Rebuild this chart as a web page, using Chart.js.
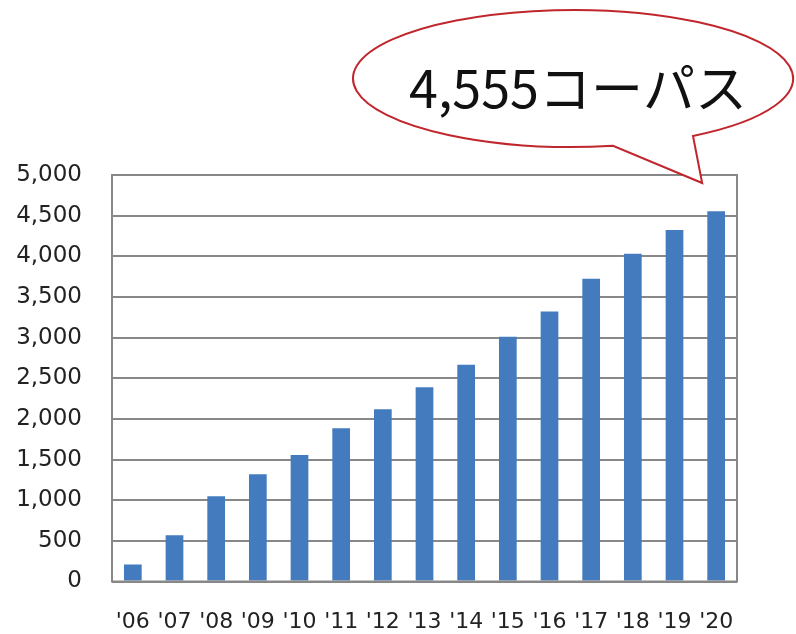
<!DOCTYPE html>
<html>
<head>
<meta charset="utf-8">
<script src="https://cdn.jsdelivr.net/npm/chart.js@4/dist/chart.umd.min.js"></script>
<style>
  html, body { margin: 0; padding: 0; background: #ffffff; }
  #wrap { width: 796px; height: 634px; position: relative; }
</style>
</head>
<body>
<div id="wrap"><canvas id="c" width="796" height="634"></canvas></div>
<script>
const categories = ["'06","'07","'08","'09","'10","'11","'12","'13","'14","'15","'16","'17","'18","'19","'20"];
const corpusCounts = [210, 570, 1050, 1320, 1555, 1885, 2120, 2390, 2665, 3010, 3320, 3725, 4030, 4325, 4555];
const yTickMin = 0;
const yTickMax = 5000;
const yTickStep = 500;
const calloutText = "4,555コーパス";

const frameAndCallout = {
  id: 'frameAndCallout',
  afterDraw(chart) {
    const ctx = chart.ctx;
    const a = chart.chartArea;
    ctx.save();
    // plot frame
    ctx.strokeStyle = '#888888';
    ctx.lineWidth = 2;
    ctx.strokeRect(a.left, a.top, a.right - a.left, a.bottom - a.top);

    // speech bubble
    const cx = 573, cy = 78.5, rx = 220, ry = 68.5;
    const t1 = Math.acos((693 - cx) / rx);
    const t2 = Math.acos((613 - cx) / rx);
    const lastIdx = corpusCounts.length - 1;
    const xs = chart.scales.x;
    const tipX = xs.getPixelForValue(lastIdx) - 14;
    const tipY = a.top + 8;
    ctx.beginPath();
    ctx.ellipse(cx, cy, rx, ry, 0, t2, t1 + Math.PI * 2, false);
    ctx.lineTo(tipX, tipY);
    ctx.closePath();
    ctx.fillStyle = '#ffffff';
    ctx.fill();
    ctx.strokeStyle = '#c0262d';
    ctx.lineWidth = 2;
    ctx.stroke();

    ctx.fillStyle = '#111111';
    ctx.font = '400 52px "Noto Sans CJK JP", "Noto Sans", sans-serif';
    ctx.textAlign = 'center';
    ctx.textBaseline = 'middle';
    ctx.fillText(calloutText, 578, 88);
    ctx.restore();
  }
};

new Chart(document.getElementById('c'), {
  type: 'bar',
  data: {
    labels: categories,
    datasets: [{
      data: corpusCounts,
      backgroundColor: '#437bbe',
      borderWidth: 0,
      barPercentage: 0.425,
      categoryPercentage: 1.0
    }]
  },
  options: {
    responsive: false,
    animation: false,
    devicePixelRatio: 1,
    layout: { padding: { top: 175, right: 59, left: 0, bottom: 0 } },
    plugins: { legend: { display: false }, tooltip: { enabled: false } },
    scales: {
      x: {
        grid: { display: false, drawTicks: false },
        border: { display: false },
        ticks: {
          color: '#222222',
          font: { family: 'DejaVu Sans', size: 22 },
          padding: 28,
          maxRotation: 0,
          autoSkip: false
        },
        afterFit(s) { s.height = 52.5; }
      },
      y: {
        min: yTickMin,
        max: yTickMax,
        grid: { color: '#888888', lineWidth: 2, drawTicks: false },
        border: { display: false },
        ticks: {
          stepSize: yTickStep,
          color: '#222222',
          font: { family: 'DejaVu Sans', size: 23 },
          padding: 30,
          callback: (v) => Number(v).toLocaleString('en-US')
        },
        afterFit(s) { s.width = 112; }
      }
    }
  },
  plugins: [frameAndCallout]
});
</script>
</body>
</html>
